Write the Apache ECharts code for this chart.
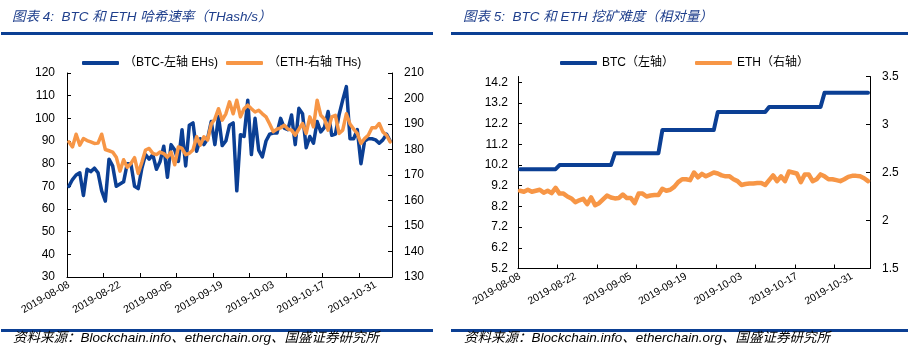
<!DOCTYPE html>
<html>
<head>
<meta charset="utf-8">
<script src="https://cdn.jsdelivr.net/npm/echarts@6.0.0/dist/echarts.min.js"></script>
<style>
html,body{margin:0;padding:0;background:#fff;}
#c{width:922px;height:361px;}
</style>
</head>
<body>
<div id="c"></div>
<script>
const categories = [
'2019-08-08','2019-08-09','2019-08-10','2019-08-11','2019-08-12','2019-08-13','2019-08-14','2019-08-15','2019-08-16','2019-08-17',
'2019-08-18','2019-08-19','2019-08-20','2019-08-21','2019-08-22','2019-08-23','2019-08-24','2019-08-25','2019-08-26','2019-08-27',
'2019-08-28','2019-08-29','2019-08-30','2019-08-31','2019-09-01','2019-09-02','2019-09-03','2019-09-04','2019-09-05','2019-09-06',
'2019-09-07','2019-09-08','2019-09-09','2019-09-10','2019-09-11','2019-09-12','2019-09-13','2019-09-14','2019-09-15','2019-09-16',
'2019-09-17','2019-09-18','2019-09-19','2019-09-20','2019-09-21','2019-09-22','2019-09-23','2019-09-24','2019-09-25','2019-09-26',
'2019-09-27','2019-09-28','2019-09-29','2019-09-30','2019-10-01','2019-10-02','2019-10-03','2019-10-04','2019-10-05','2019-10-06',
'2019-10-07','2019-10-08','2019-10-09','2019-10-10','2019-10-11','2019-10-12','2019-10-13','2019-10-14','2019-10-15','2019-10-16',
'2019-10-17','2019-10-18','2019-10-19','2019-10-20','2019-10-21','2019-10-22','2019-10-23','2019-10-24','2019-10-25','2019-10-26',
'2019-10-27','2019-10-28','2019-10-29','2019-10-30','2019-10-31','2019-11-01','2019-11-02','2019-11-03','2019-11-04'
];

// Chart 4: hash rate
const btcHash = [70,73,75,76,66,77.5,76.5,78,76,68,
63.5,82,79,70,71,72,80,80,70,69,
78,84,82,84,77.5,81,87.7,74,88.4,86,
81,95,79,97,98,85.5,91,88.4,91,98.6,
88.4,100.8,88,90,97,98,68,92.8,92,108,
84,100,86,83,90,93,93.5,93.5,100,95.7,
95,101.5,88.4,104.4,102,87,92,89,98.6,94,
96,103,92.5,93,101.5,108,114,91,91,95,
80,90,91,91,90.5,89,90.5,93,90];
const ethHash = [183,181,186,181.7,184.3,183.5,183,182.4,182.5,186,
180,179.5,179,177,171.5,176,173,174.5,176.8,170.6,
175,179.8,180.4,178.5,178,179,178.4,177,179,174,
181,180.4,178,178.5,179.8,185,181.7,185,183.7,190,
192,196,191.5,194,198.7,194,199.3,192.8,196,197.4,
196,194.7,195.4,194,192.8,190,187,188,188.5,189.5,
188,187.6,185.6,188,190.2,186.3,192.8,188.9,199.3,193.4,
192,187.6,192.8,193.4,186.3,187.6,194,190,188,186.3,
182.4,184.3,185.6,188.5,188.5,190.2,186.9,185.6,183];

// Chart 5: difficulty
const btcDiff = [10.0,10.0,10.0,10.0,10.0,10.0,10.0,10.0,10.0,10.0,
10.2,10.2,10.2,10.2,10.2,10.2,10.2,10.2,10.2,10.2,10.2,10.2,10.2,10.2,
10.77,10.77,10.77,10.77,10.77,10.77,10.77,10.77,10.77,10.77,10.77,10.77,
11.89,11.89,11.89,11.89,11.89,11.89,11.89,11.89,11.89,11.89,11.89,11.89,11.89,11.89,
12.76,12.76,12.76,12.76,12.76,12.76,12.76,12.76,12.76,12.76,12.76,12.76,12.76,
13.01,13.01,13.01,13.01,13.01,13.01,13.01,13.01,13.01,13.01,13.01,13.01,13.01,13.01,
13.69,13.69,13.69,13.69,13.69,13.69,13.69,13.69,13.69,13.69,13.69,13.69];
const ethDiff = [2.31,2.30,2.32,2.30,2.31,2.32,2.29,2.31,2.285,2.34,
2.28,2.28,2.25,2.23,2.19,2.21,2.225,2.17,2.24,2.16,
2.18,2.22,2.26,2.24,2.23,2.235,2.27,2.235,2.235,2.18,
2.28,2.28,2.25,2.26,2.265,2.265,2.33,2.31,2.32,2.35,
2.40,2.43,2.43,2.42,2.50,2.45,2.486,2.46,2.48,2.50,
2.49,2.47,2.46,2.46,2.43,2.41,2.37,2.38,2.385,2.385,
2.39,2.39,2.37,2.42,2.47,2.41,2.46,2.41,2.51,2.50,
2.49,2.40,2.48,2.48,2.41,2.43,2.48,2.46,2.43,2.43,
2.42,2.41,2.43,2.455,2.465,2.465,2.46,2.44,2.41];

const diffLeftTicks = [5.2,6.2,7.2,8.2,9.2,10.2,11.2,12.2,13.2,14.2];

const names = ['（BTC-左轴 EHs)', '（ETH-右轴 THs)', 'BTC（左轴）', 'ETH（右轴）'];
const titles = ['图表 4:  BTC 和 ETH 哈希速率（THash/s）', '图表 5:  BTC 和 ETH 挖矿难度（相对量）'];
const sourceLabel = '资料来源：';
const sourceText = 'Blockchain.info、etherchain.org、国盛证券研究所';

const BLUE = '#0B3F94';
const ORANGE = '#F79646';
const FONT = "'Liberation Sans','Noto Sans CJK SC',sans-serif";
const TFONT = "'Liberation Sans','Noto Sans CJK SC',sans-serif";

function xAxisCfg(grid) {
  return {
    type: 'category', gridIndex: grid, data: categories, boundaryGap: true,
    axisLine: {show: true, lineStyle: {color: '#000', width: 1}},
    axisTick: {show: true, inside: true, length: 4, interval: 9, lineStyle: {color: '#000'}},
    axisLabel: {interval: 13, rotate: 30, fontSize: 10.5, color: '#000', fontFamily: FONT, margin: 7},
    splitLine: {show: false}
  };
}
function yAxisCfg(grid, pos, extra) {
  return Object.assign({
    type: 'value', gridIndex: grid, position: pos,
    axisLine: {show: true, lineStyle: {color: '#000', width: 1}},
    axisTick: {show: true, inside: true, length: 4, lineStyle: {color: '#000'}},
    axisLabel: {fontSize: 12, color: '#000', fontFamily: FONT, margin: 12},
    splitLine: {show: false}
  }, extra);
}

const lineSeries = (name, data, x, y, color, w, z) => ({
  name, type: 'line', data, xAxisIndex: x, yAxisIndex: y, symbol: 'none',
  lineStyle: {color, width: w, cap: 'round', join: 'round'}, itemStyle: {color}, z,
  animation: false
});

const srcRich = {
  a: {fontSize: 13.5, fontStyle: 'italic', fontFamily: TFONT, color: '#5B6FA6'},
  b: {fontSize: 13.5, fontStyle: 'italic', fontFamily: TFONT, color: '#1E4FA0'}
};

const chart = echarts.init(document.getElementById('c'), null, {renderer: 'canvas'});
chart.setOption({
  animation: false,
  backgroundColor: '#fff',
  grid: [
    {left: 67, top: 73, width: 325, height: 204},
    {left: 518, top: 76.5, width: 352, height: 192}
  ],
  legend: [
    {data: [names[0], names[1]], left: 77, top: 52, itemWidth: 37, itemHeight: 4, icon: 'roundRect', itemGap: 8,
     textStyle: {fontSize: 12, color: '#000', fontFamily: FONT}},
    {data: [names[2], names[3]], left: 555, top: 52, itemWidth: 37, itemHeight: 4, icon: 'roundRect', itemGap: 21,
     textStyle: {fontSize: 12, color: '#000', fontFamily: FONT}}
  ],
  xAxis: [xAxisCfg(0), xAxisCfg(1)],
  yAxis: [
    yAxisCfg(0, 'left', {min: 30, max: 120, interval: 10}),
    yAxisCfg(0, 'right', {min: 130, max: 210, interval: 10}),
    yAxisCfg(1, 'left', {min: 5.2, max: 14.48,
      axisTick: {show: true, inside: true, length: 4, lineStyle: {color: '#000'}, customValues: diffLeftTicks},
      axisLabel: {fontSize: 12, color: '#000', fontFamily: FONT, margin: 10, customValues: diffLeftTicks,
        formatter: v => Number(v).toFixed(1)}}),
    yAxisCfg(1, 'right', {min: 1.5, max: 3.5, interval: 0.5})
  ],
  series: [
    lineSeries(names[0], btcHash, 0, 0, BLUE, 3.5, 2),
    lineSeries(names[1], ethHash, 0, 1, ORANGE, 3.5, 3),
    lineSeries(names[2], btcDiff, 1, 2, BLUE, 4, 2),
    lineSeries(names[3], ethDiff, 1, 3, ORANGE, 4.5, 3)
  ],
  graphic: [
    {type: 'text', left: 12, top: 11, style: {text: titles[0], fontSize: 13.5, fontStyle: 'italic', fontFamily: TFONT, fill: '#1F3F8C'}},
    {type: 'text', left: 463, top: 11, style: {text: titles[1], fontSize: 13.5, fontStyle: 'italic', fontFamily: TFONT, fill: '#1F3F8C'}},
    {type: 'rect', shape: {x: 1, y: 32, width: 432, height: 3}, style: {fill: BLUE}},
    {type: 'rect', shape: {x: 451, y: 32, width: 457, height: 3}, style: {fill: BLUE}},
    {type: 'rect', shape: {x: 1, y: 329, width: 432, height: 3}, style: {fill: BLUE}},
    {type: 'rect', shape: {x: 451, y: 329, width: 457, height: 3}, style: {fill: BLUE}},
    {type: 'text', left: 13, top: 331, style: {text: '{a|' + sourceLabel + '}{b|' + sourceText + '}', rich: srcRich}},
    {type: 'text', left: 464, top: 331, style: {text: '{a|' + sourceLabel + '}{b|' + sourceText + '}', rich: srcRich}}
  ]
});
</script>
</body>
</html>
